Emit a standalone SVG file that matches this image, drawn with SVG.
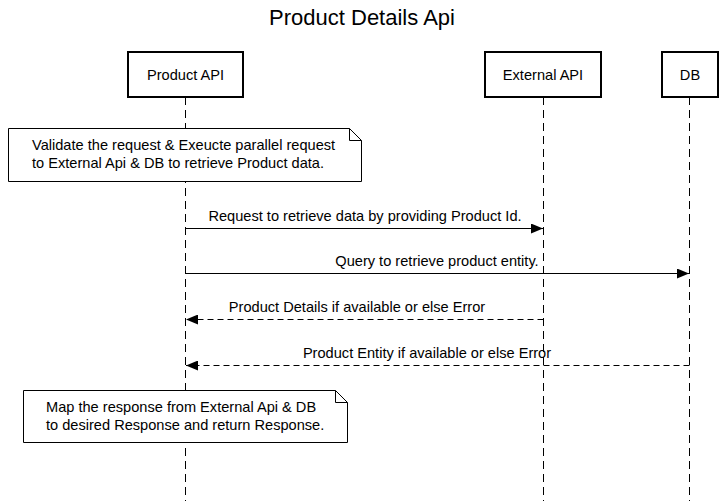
<svg xmlns="http://www.w3.org/2000/svg" width="725" height="501" viewBox="0 0 725 501">
<style>
text{font-family:"Liberation Sans",Arial,sans-serif;fill:#000}
.actor{fill:#fff;stroke:#000;stroke-width:2}
.life{stroke:#000;stroke-width:1;stroke-dasharray:8,5;fill:none}
.note{fill:#fff;stroke:#000;stroke-width:1}
.msg{stroke:#000;stroke-width:1;fill:none}
.dash{stroke-dasharray:6,4}
.lbl{font-size:14.6px;text-anchor:middle}
.nt{font-size:14.6px}
.an{font-size:14.6px;text-anchor:middle}
</style>
<defs>
<marker id="ah" viewBox="0 0 12 10" refX="12" refY="5" markerWidth="12" markerHeight="10" markerUnits="userSpaceOnUse" orient="auto">
<path d="M0,0 L12,5 L0,10 z" fill="#000"/>
</marker>
</defs>
<text x="362" y="25" font-size="22" text-anchor="middle">Product Details Api</text>
<g id="lifelines">
<line class="life" x1="185.5" y1="97" x2="185.5" y2="501"/>
<line class="life" x1="543.5" y1="97" x2="543.5" y2="501"/>
<line class="life" x1="689.5" y1="97" x2="689.5" y2="501"/>
</g>
<g id="product-api">
<rect class="actor" x="128" y="52" width="115" height="45"/>
<text class="an" x="185.5" y="80">Product API</text>
</g>
<g id="external-api">
<rect class="actor" x="485" y="52" width="116" height="45"/>
<text class="an" x="543" y="80">External API</text>
</g>
<g id="db">
<rect class="actor" x="662" y="52" width="56" height="45"/>
<text class="an" x="690" y="80">DB</text>
</g>
<g id="note1">
<path class="note" d="M8.5,128.5 H349.5 L361.5,140.5 V181.5 H8.5 Z M349.5,128.5 V140.5 H361.5"/>
<text class="nt" x="32" y="150">Validate the request &amp; Exeucte parallel request</text>
<text class="nt" x="32" y="168">to External Api &amp; DB to retrieve Product data.</text>
</g>
<g id="note2">
<path class="note" d="M23.5,390.5 H335.5 L347.5,402.5 V442.5 H23.5 Z M335.5,390.5 V402.5 H347.5"/>
<text class="nt" x="46" y="412">Map the response from External Api &amp; DB</text>
<text class="nt" x="46" y="430">to desired Response and return Response.</text>
</g>
<g id="connectors">
<line class="msg" x1="185.5" y1="228.5" x2="543" y2="228.5" marker-end="url(#ah)"/>
<text class="lbl" x="365" y="221">Request to retrieve data by providing Product Id.</text>
<line class="msg" x1="185.5" y1="273.5" x2="689" y2="273.5" marker-end="url(#ah)"/>
<text class="lbl" x="437" y="266">Query to retrieve product entity.</text>
<line class="msg dash" x1="543.5" y1="319.5" x2="186" y2="319.5" marker-end="url(#ah)"/>
<text class="lbl" x="357" y="312">Product Details if available or else Error</text>
<line class="msg dash" x1="689.5" y1="365.5" x2="186" y2="365.5" marker-end="url(#ah)"/>
<text class="lbl" x="427" y="358">Product Entity if available or else Error</text>
</g>
</svg>
